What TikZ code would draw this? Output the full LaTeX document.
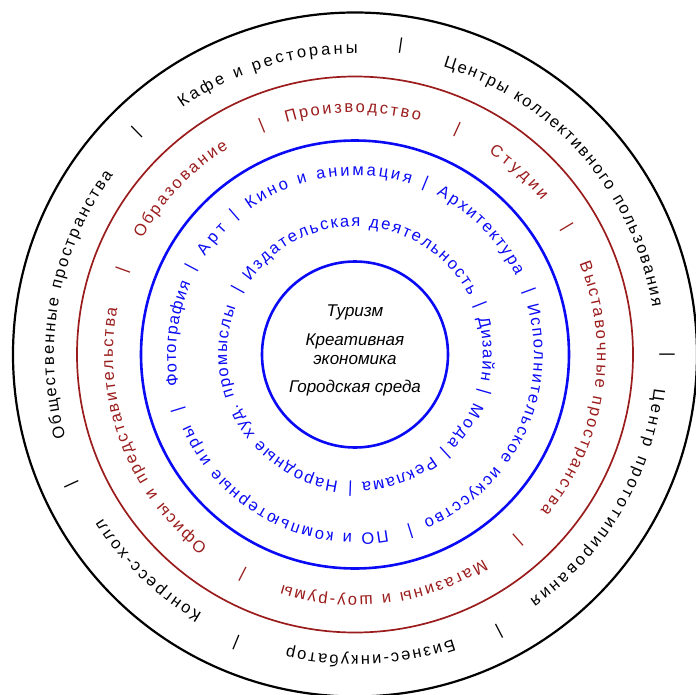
\documentclass[tikz,border=0pt]{standalone}
\usepackage{fontspec}
\setmainfont{Liberation Sans}
\usetikzlibrary{decorations.text}
\definecolor{ringred}{RGB}{155,28,28}
\definecolor{ringblue}{RGB}{10,10,245}
\newcommand{\ringfont}{\fontsize{16.5}{19}\selectfont}
\newcommand{\ringtext}[5]{\path[decorate,decoration={text along path,text={|\ringfont|#5},text align=fit to path,text color=#1}] (#3:#2pt) arc[start angle=#3,end angle=#4,radius=#2pt];}
\tikzset{
  sepmark/.style={font=\ringfont, inner sep=0pt},
  centertext/.style={font=\fontsize{17}{20}\selectfont\itshape, inner sep=0pt, anchor=base},
  outerring/.style={draw=black, line width=2.2pt},
  redring/.style={draw=ringred, line width=1.7pt},
  bluering/.style={draw=ringblue, line width=2.6pt}
}
\begin{document}
\begin{tikzpicture}[x=1pt,y=1pt]
\useasboundingbox (-355,-339.5) rectangle (341,354.5);
\coordinate (c) at (0,0);
\draw[outerring] (c) circle[radius=342pt];
\draw[redring] (c) circle[radius=278pt];
\draw[bluering] (c) circle[radius=214pt];
\draw[bluering] (c) circle[radius=93pt];

% outer ring
\ringtext{black}{301}{125}{89.5}{Кафе и рестораны}
\ringtext{black}{301}{73}{9}{Центры коллективного пользования}
\ringtext{black}{301}{-6.5}{-54.5}{Центр прототипирования}
\ringtext{black}{301}{-71}{-103}{Бизнес-инкубатор}
\ringtext{black}{301}{-120.5}{-147}{Конгресс-холл}
\ringtext{black}{301}{196}{143.5}{Общественные пространства}
\foreach \a/\n in {81.6/o1,0/o2,-62.5/o3,-112.4/o4,-155.4/o5,134.4/o6}
  \node[sepmark, rotate=\a-90] (\n) at (\a:312pt) {|};

% red ring
\ringtext{ringred}{242}{106.5}{74.5}{Производство}
\ringtext{ringred}{242}{56.5}{39.5}{Студии}
\ringtext{ringred}{242}{22}{-40}{Выставочные пространства}
\ringtext{ringred}{242}{-58}{-107.5}{Магазины и шоу-румы}
\ringtext{ringred}{242}{232.5}{169}{Офисы и представительства}
\ringtext{ringred}{242}{151.5}{121.5}{Образование}
\foreach \a/\n in {65.6/r1,31/r2,-48.7/r3,-117.1/r4,160.1/r5,112.2/r6}
  \node[sepmark, text=ringred, rotate=\a-90] (\n) at (\a:247pt) {|};

% blue ring, outer line
\ringtext{ringblue}{179}{126}{72}{Кино и анимация}
\ringtext{ringblue}{179}{63}{26}{Архитектура}
\ringtext{ringblue}{179}{16}{-67.5}{Исполнительское искусство}
\ringtext{ringblue}{179}{-79.5}{-157}{ПО и компьютерные игры}
\ringtext{ringblue}{179}{190}{156.5}{Фотография}
\ringtext{ringblue}{179}{147}{135.5}{Арт}
\foreach \a/\n in {67.7/b1,20.2/b2,-72.6/b3,-162.8/b4,152.1/b5,130.8/b6}
  \node[sepmark, text=ringblue, rotate=\a-90] (\n) at (\a:185pt) {|};

% blue ring, inner line
\ringtext{ringblue}{128}{145}{27}{Издательская деятельность}
\ringtext{ringblue}{128}{16.5}{-11.5}{Дизайн}
\ringtext{ringblue}{128}{-22}{-44}{Мода}
\ringtext{ringblue}{128}{-53}{-87}{Реклама}
\ringtext{ringblue}{128}{-97.5}{-201.5}{Народные худ. промыслы}
\foreach \a/\n in {21.6/i1,-16.1/i2,-47.5/i3,-92/i4,151.2/i5}
  \node[sepmark, text=ringblue, rotate=\a-90] (\n) at (\a:134pt) {|};

% centre
\node[centertext] (t1) at (0,38.5) {Туризм};
\node[centertext] (t2) at (0,9.5) {Креативная};
\node[centertext] (t3) at (0,-9.5) {экономика};
\node[centertext] (t4) at (0,-37.5) {Городская среда};
\end{tikzpicture}
\end{document}
